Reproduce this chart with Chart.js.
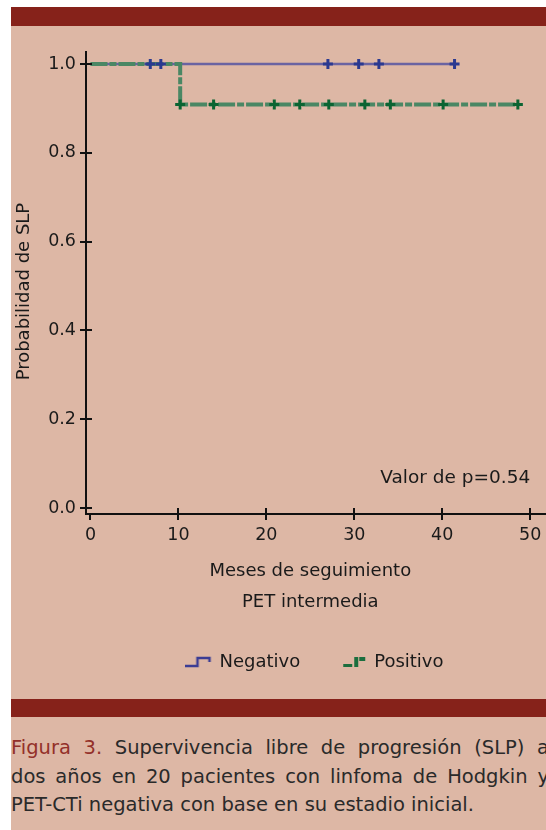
<!DOCTYPE html>
<html>
<head>
<meta charset="utf-8">
<title>Figura 3 - SLP segun PET intermedia</title>
<script src="https://cdn.jsdelivr.net/npm/chart.js"></script>
<style>
  body { margin: 0; background: #fff; }
  #page { position: absolute; left: 11px; top: 7px; width: 535px; height: 823px; background: #ddb7a5; overflow: hidden; }
  .bar { position: absolute; left: 0; width: 535px; background: #86221a; }
  #chartBox { position: absolute; left: -11px; top: 19px; width: 546px; height: 673px; }
  #caption { position: absolute; left: 0; top: 727px; width: 538px; font-family: 'DejaVu Sans'; font-size: 19.5px; line-height: 28.5px; color: #2a2a2a; white-space: nowrap; }
  #caption .j { text-align: justify; text-align-last: justify; }
  #caption .fig { color: #933029; }
</style>
</head>
<body>
<div id="page">
  <div class="bar" style="top:0;height:19px"></div>
  <div id="chartBox"><canvas id="kmChart" width="546" height="673"></canvas></div>
  <div class="bar" style="top:692px;height:18px"></div>
  <div id="caption">
    <div class="j"><span class="fig">Figura 3.</span> Supervivencia libre de progresión (SLP) a</div>
    <div class="j">dos años en 20 pacientes con linfoma de Hodgkin y</div>
    <div>PET-CTi negativa con base en su estadio inicial.</div>
  </div>
</div>

<script>
  // tick labels
  const monthTicks = [0, 10, 20, 30, 40, 50];
  const probTicks = [0, 0.2, 0.4, 0.6, 0.8, 1.0];
  const seriesNames = ['Negativo', 'Positivo'];
  const pValueText = 'Valor de p=0.54';

  // Negativo: no events, censored patients
  const negLineX = [0, 41.4];
  const negLineY = [1.0, 1.0];
  const negCensorX = [6.8, 8.0, 27.0, 30.5, 32.8, 41.4];
  const negCensorY = [1.0, 1.0, 1.0, 1.0, 1.0, 1.0];

  // Positivo: one event at ~10 months
  const posLineX = [0, 10.2, 48.6];
  const posLineY = [1.0, 0.909, 0.909];
  const posCensorX = [10.2, 14.0, 20.9, 23.8, 27.1, 31.2, 34.1, 40.1, 48.6];
  const posCensorY = [0.909, 0.909, 0.909, 0.909, 0.909, 0.909, 0.909, 0.909, 0.909];

  const txt = '#1a1a1a';
  const fam = "'DejaVu Sans', sans-serif";

  function pts(xs, ys) {
    return xs.map((v, i) => ({ x: v, y: ys[i] }));
  }

  // legend icons (little step shapes)
  function makeIcon(kind) {
    const c = document.createElement('canvas');
    c.width = 28; c.height = 12;
    const g = c.getContext('2d');
    if (kind === 'neg') {
      g.strokeStyle = '#3b3c94';
      g.lineWidth = 2.5;
      g.beginPath();
      g.moveTo(0, 10); g.lineTo(12, 10); g.lineTo(12, 2); g.lineTo(24, 2); g.lineTo(24, 6);
      g.stroke();
    } else {
      g.fillStyle = '#1b6e3e';
      g.fillRect(3, 8, 9, 3);
      g.fillRect(14, 1, 4, 10);
      g.fillRect(19, 1, 6, 4);
    }
    return c;
  }
  const icons = [makeIcon('neg'), makeIcon('pos')];

  // inner half of the ticks + p value text
  const extras = {
    id: 'extras',
    afterDraw(chart) {
      const { ctx, chartArea } = chart;
      const x = chart.scales.x, y = chart.scales.y;
      ctx.save();
      ctx.strokeStyle = '#111';
      ctx.lineWidth = 2;
      ctx.beginPath();
      monthTicks.forEach(v => {
        if (v === 0) return;
        const px = Math.round(x.getPixelForValue(v));
        ctx.moveTo(px, chartArea.bottom);
        ctx.lineTo(px, chartArea.bottom - 6);
      });
      probTicks.forEach(v => {
        const py = Math.round(y.getPixelForValue(v));
        ctx.moveTo(chartArea.left, py);
        ctx.lineTo(chartArea.left + 6, py);
      });
      ctx.stroke();
      ctx.font = '18.5px ' + fam;
      ctx.fillStyle = txt;
      ctx.textAlign = 'right';
      ctx.textBaseline = 'middle';
      ctx.fillText(pValueText, x.getPixelForValue(50), y.getPixelForValue(0.068));
      ctx.restore();
    }
  };

  const ctx = document.getElementById('kmChart').getContext('2d');
  const chart = new Chart(ctx, {
    type: 'scatter',
    data: {
      datasets: [
        {
          label: seriesNames[0] + ' censura',
          data: pts(negCensorX, negCensorY),
          pointStyle: 'cross', pointRadius: 5, pointBorderWidth: 3,
          pointBorderColor: '#2b3990', borderColor: '#2b3990',
          order: 0
        },
        {
          label: seriesNames[1] + ' censura',
          data: pts(posCensorX, posCensorY),
          pointStyle: 'cross', pointRadius: 5, pointBorderWidth: 3,
          pointBorderColor: '#0b6432', borderColor: '#0b6432',
          order: 1
        },
        {
          label: seriesNames[1],
          data: pts(posLineX, posLineY),
          showLine: true, stepped: 'before', pointRadius: 0,
          borderColor: '#4a8764', borderWidth: 4,
          borderDash: [17, 2, 7, 2], borderCapStyle: 'butt',
          order: 2
        },
        {
          label: seriesNames[0],
          data: pts(negLineX, negLineY),
          showLine: true, stepped: 'before', pointRadius: 0,
          borderColor: '#6a63a2', borderWidth: 2.5,
          order: 3
        }
      ]
    },
    options: {
      responsive: false,
      animation: false,
      layout: { autoPadding: false, padding: { top: 26, right: 0, bottom: 18, left: 0 } },
      scales: {
        x: {
          type: 'linear',
          min: -0.51,
          max: 51.8,
          afterBuildTicks: s => { s.ticks = monthTicks.map(v => ({ value: v })); },
          afterFit: s => { s.height = 96; s.paddingRight = 0; s.paddingLeft = 0; },
          border: { color: '#111', width: 2 },
          grid: { drawOnChartArea: false, color: '#111', lineWidth: 2, tickLength: 6 },
          ticks: { color: txt, font: { family: fam, size: 17.5 }, padding: 5, maxRotation: 0, callback: v => v },
          title: {
            display: true,
            text: ['Meses de seguimiento  ', 'PET intermedia  '],
            color: txt,
            font: { family: fam, size: 18, lineHeight: 1.72 },
            padding: { top: 0, bottom: -7.5 }
          }
        },
        y: {
          type: 'linear',
          min: -0.0135,
          max: 1.027,
          afterBuildTicks: s => { s.ticks = probTicks.map(v => ({ value: v })); },
          afterFit: s => { s.width = 86; s.paddingTop = 0; s.paddingBottom = 0; },
          border: { color: '#111', width: 2 },
          grid: { drawOnChartArea: false, color: '#111', lineWidth: 2, tickLength: 6 },
          ticks: { color: txt, font: { family: fam, size: 17.5 }, padding: 4, callback: v => v.toFixed(1) },
          title: {
            display: true,
            text: 'Probabilidad de SLP   ',
            color: txt,
            font: { family: fam, size: 18 },
            padding: { top: 14, bottom: 0 }
          }
        }
      },
      plugins: {
        tooltip: { enabled: false },
        legend: {
          position: 'bottom',
          fullSize: false,
          labels: {
            usePointStyle: true,
            pointStyleWidth: 22,
            padding: 43,
            color: txt,
            font: { family: fam, size: 18 },
            generateLabels: () => seriesNames.map((name, i) => ({
              text: name,
              pointStyle: icons[i],
              fillStyle: 'rgba(0,0,0,0)',
              strokeStyle: 'rgba(0,0,0,0)',
              lineWidth: 0,
              hidden: false,
              datasetIndex: i === 0 ? 3 : 2,
              fontColor: txt
            }))
          }
        }
      }
    },
    plugins: [extras]
  });
</script>
</body>
</html>
